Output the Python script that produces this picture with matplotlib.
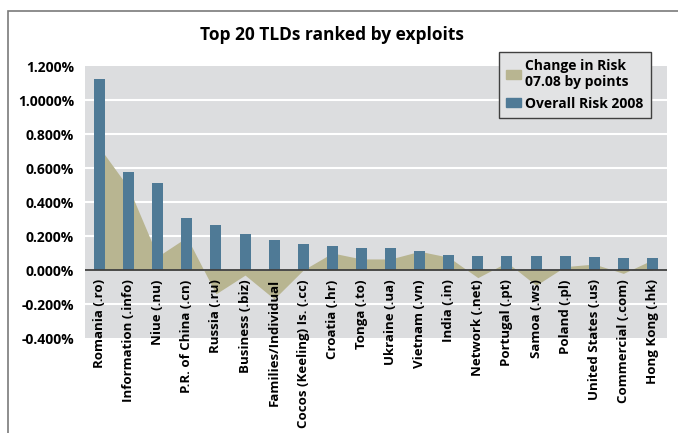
import numpy as np
import matplotlib
matplotlib.use("Agg")
import matplotlib.pyplot as plt
from matplotlib.patches import Rectangle, Patch

plt.rcParams['font.family'] = ['Open Sans', 'DejaVu Sans']
plt.rcParams['font.weight'] = 'bold'

# Data (values in %)
tlds = ['Romania (.ro)', 'Information (.info)', 'Niue (.nu)', 'P.R. of China (.cn)',
        'Russia (.ru)', 'Business (.biz)', 'Families/Individual', 'Cocos (Keeling) Is. (.cc)',
        'Croatia (.hr)', 'Tonga (.to)', 'Ukraine (.ua)', 'Vietnam (.vn)', 'India (.in)',
        'Network (.net)', 'Portugal (.pt)', 'Samoa (.ws)', 'Poland (.pl)',
        'United States (.us)', 'Commercial (.com)', 'Hong Kong (.hk)']
overall_2008 = [1.124, 0.576, 0.512, 0.306, 0.265, 0.212, 0.176, 0.153, 0.141, 0.129,
                0.129, 0.112, 0.088, 0.082, 0.082, 0.082, 0.082, 0.076, 0.071, 0.071]
change_07_08 = [0.72, 0.484, 0.08, 0.193, -0.14, -0.03, -0.17, 0.0, 0.10, 0.065,
                0.065, 0.11, 0.075, -0.045, 0.045, -0.09, 0.02, 0.035, -0.02, 0.06]
yticks = [-0.4, -0.2, 0.0, 0.2, 0.4, 0.6, 0.8, 1.0, 1.2]
ytick_labels = ['-0.400%', '-0.200%', '0.000%', '0.200%', '0.400%', '0.600%',
                '0.800%', '1.0000%', '1.200%']

bar_color = '#4f7a96'
area_color = '#b8b591'

fig = plt.figure(figsize=(6.78, 4.33), dpi=100)
ax = fig.add_axes([85/678, 1 - 338/433, 582/678, 272/433])
ax.set_facecolor('#dcdddf')

x = np.arange(len(tlds))
ax.fill_between(x, change_07_08, 0, color=area_color, lw=0, zorder=2)
ax.bar(x, overall_2008, width=0.38, color=bar_color, zorder=3)
ax.axhline(0, color='#404040', lw=1.3, zorder=4)

ax.set_xlim(-0.5, len(tlds) - 0.5)
ax.set_ylim(-0.4, 1.2)
ax.set_yticks(yticks)
ax.set_yticklabels(ytick_labels, fontsize=10, fontweight='bold')
ax.tick_params(axis='y', length=0, pad=8)
ax.set_xticks([])
for g in [-0.2, 0.2, 0.4, 0.6, 0.8, 1.0]:
    ax.axhline(g, color='white', lw=1.5, zorder=1)
for s in ax.spines.values():
    s.set_visible(False)

# category labels sit just under the zero line, inside the plot area
for i, name in enumerate(tlds):
    ax.text(i, -0.055, name, rotation=90, ha='center', va='top',
            fontsize=9.5, fontweight='bold', clip_on=False, zorder=5)

fig.text(332/678, 1 - 35/433, 'Top 20 TLDs ranked by exploits',
         ha='center', va='center', fontsize=12.5, fontweight='bold')

handles = [Patch(color=area_color, label='Change in Risk\n07.08 by points'),
           Patch(color=bar_color, label='Overall Risk 2008')]
leg = fig.legend(handles=handles, loc='upper left', bbox_to_anchor=(492/678, 1 - 45/433),
                 frameon=True, fancybox=False, prop={'size': 10, 'weight': 'bold'},
                 handlelength=1.1, handleheight=0.6, handletextpad=0.3,
                 borderpad=0.5, labelspacing=0.55)
leg.get_frame().set_facecolor('#e2e3e4')
leg.get_frame().set_edgecolor('#404040')
leg.get_frame().set_linewidth(1)
leg.get_frame().set_alpha(1)

# outer frame (cut off on right and bottom in the reference)
fig.patches.append(Rectangle((8/678, -0.2), 1.2, 1.2 - 10.5/433,
                             transform=fig.transFigure, fill=False,
                             edgecolor='#7a7a7a', lw=1.2))

fig.savefig('out.png', dpi=100)
